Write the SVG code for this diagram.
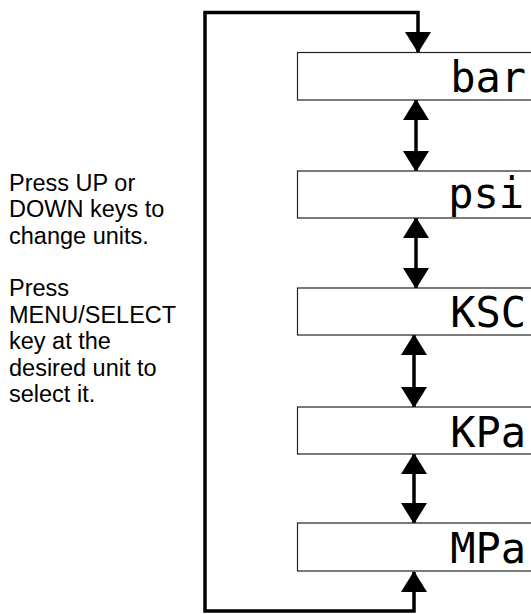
<svg xmlns="http://www.w3.org/2000/svg" width="531" height="614" viewBox="0 0 531 614">
<style>
.box{fill:#fff;stroke:#222;stroke-width:1.2}
.lcd{font-family:"DejaVu Sans Mono","Liberation Mono",monospace;font-size:42px;fill:#000;text-anchor:end}
.note{font-family:"Liberation Sans",Arial,sans-serif;font-size:23.5px;fill:#000}
.conn{fill:none;stroke:#000;stroke-width:3.5;stroke-linejoin:miter}
.arr{marker-start:url(#ah);marker-end:url(#ah)}
</style>
<defs>
<marker id="ah" viewBox="0 0 21 26" refX="20" refY="13" markerWidth="21" markerHeight="26" markerUnits="userSpaceOnUse" orient="auto-start-reverse">
<path d="M0,0 L21,13 L0,26 z" fill="#000"/>
</marker>
</defs>
<rect width="531" height="614" fill="#fff"/>
<g id="connectors">
<path class="conn arr" d="M414,572 L414,611 L205,611 L205,12.5 L418,12.5 L418,52"/>
<line class="conn arr" x1="416" y1="100" x2="416" y2="171"/>
<line class="conn arr" x1="416" y1="218" x2="416" y2="288"/>
<line class="conn arr" x1="414" y1="335" x2="414" y2="407"/>
<line class="conn arr" x1="414" y1="454" x2="414" y2="523"/>
</g>
<g id="node-bar"><rect class="box" x="297.5" y="52.5" width="245" height="47.5"/><text class="lcd" x="526" y="92">bar</text></g>
<g id="node-psi"><rect class="box" x="297.5" y="171" width="245" height="47"/><text class="lcd" x="524" y="208">psi</text></g>
<g id="node-ksc"><rect class="box" x="297.5" y="288" width="245" height="47"/><text class="lcd" x="526" y="327">KSC</text></g>
<g id="node-kpa"><rect class="box" x="297.5" y="407" width="245" height="47"/><text class="lcd" x="526" y="447">KPa</text></g>
<g id="node-mpa"><rect class="box" x="297.5" y="523" width="245" height="48"/><text class="lcd" x="526" y="563">MPa</text></g>
<g id="instructions" class="note">
<text x="9" y="191">Press UP or</text>
<text x="9" y="217">DOWN keys to</text>
<text x="9" y="243.5">change units.</text>
<text x="9" y="296">Press</text>
<text x="9" y="322.5">MENU/SELECT</text>
<text x="9" y="349">key at the</text>
<text x="9" y="375.5">desired unit to</text>
<text x="9" y="401.5">select it.</text>
</g>
</svg>
